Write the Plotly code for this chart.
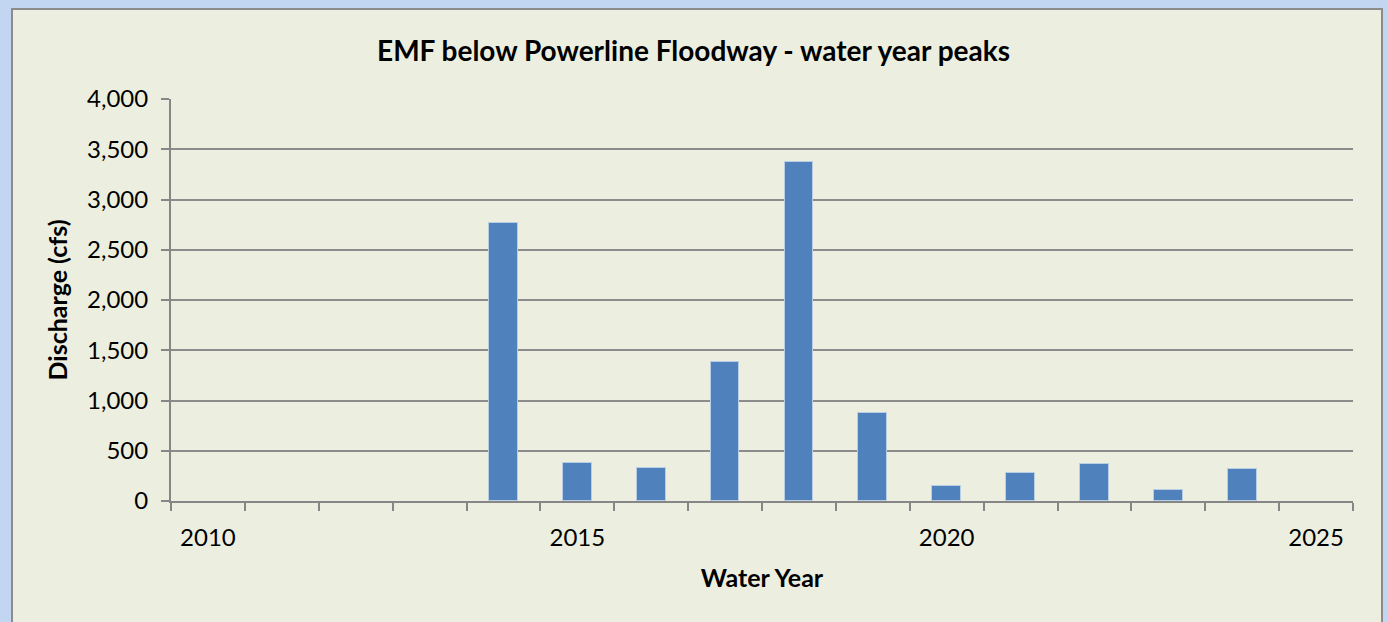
import plotly.graph_objects as go

# water year peaks (cfs)
years = [2014, 2015, 2016, 2017, 2018, 2019, 2020, 2021, 2022, 2023, 2024]
peaks = [2770, 380, 330, 1385, 3375, 878, 148, 282, 370, 108, 315]

year_ticks = [2010, 2015, 2020, 2025]
y_ticks = [0, 500, 1000, 1500, 2000, 2500, 3000, 3500, 4000]

W, H = 1387, 622
L, R, T, B = 171, 34, 99, 121
pw = W - L - R
ph = H - T - B


def px_x(x):
    return (x - L) / pw


def px_y(y):
    return (H - B - y) / ph


fig = go.Figure()

fig.add_trace(
    go.Bar(
        x=years,
        y=peaks,
        width=0.39,
        marker=dict(color="#4F81BD", line=dict(color="#B9CDE5", width=1)),
        name="Peak",
    )
)

axis_col = "#868686"

fig.update_layout(
    width=W,
    height=H,
    margin=dict(l=L, r=R, t=T, b=B),
    paper_bgcolor="#C2D6F2",
    plot_bgcolor="white",
    showlegend=False,
    bargap=0,
    font=dict(family="Lato", size=24, color="black"),
    title=dict(
        text="<b>EMF below Powerline Floodway - water year peaks</b>",
        x=0.5,
        xanchor="center",
        y=1 - 51 / H,
        yanchor="middle",
        font=dict(size=28),
    ),
    shapes=[
        dict(
            type="rect",
            xref="paper",
            yref="paper",
            x0=px_x(12),
            x1=px_x(1382),
            y0=px_y(640),
            y1=px_y(9),
            fillcolor="#ECEFE0",
            line=dict(color="#8C8C8C", width=2),
            layer="below",
        )
    ],
)

fig.update_xaxes(
    range=[2009.5, 2025.5],
    tickvals=year_ticks,
    ticks="",
    ticklabelstandoff=14,
    showgrid=False,
    zeroline=False,
    showline=True,
    linecolor=axis_col,
    linewidth=2,
    minor=dict(
        ticks="outside",
        tick0=2009.5,
        dtick=1,
        ticklen=8,
        tickwidth=2,
        tickcolor=axis_col,
        showgrid=False,
    ),
    title=dict(text="<b>Water Year</b>", standoff=20, font=dict(size=25)),
)

fig.update_yaxes(
    range=[0, 4000],
    tickvals=y_ticks,
    tickformat=",",
    ticks="outside",
    ticklen=8,
    tickwidth=2,
    tickcolor=axis_col,
    ticklabelstandoff=8,
    showgrid=True,
    gridcolor="#8C8C8C",
    gridwidth=2,
    zeroline=False,
    showline=True,
    linecolor=axis_col,
    linewidth=2,
    title=dict(text="<b>Discharge (cfs)</b>", standoff=12, font=dict(size=25)),
)

# drop the default page margin so the chart sits flush with the window
fig.write_html(
    "out.html",
    config={"displayModeBar": False},
    post_script="document.body.style.margin='0';",
)
